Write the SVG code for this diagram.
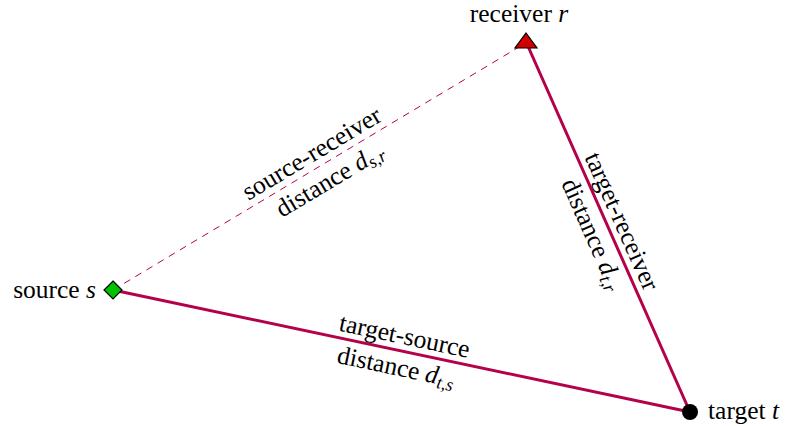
<svg xmlns="http://www.w3.org/2000/svg" width="785" height="426" viewBox="0 0 785 426" font-family="'Liberation Serif', 'Times New Roman', serif">
<style>
text{font-family:"Liberation Serif","Times New Roman",serif;font-size:25.5px;fill:#000}
.i{font-style:italic}
.sub{font-size:18px;font-style:italic}
.edge{stroke:#b5004a;fill:none;stroke-linecap:round}
.solid{stroke-width:3}
.dash{stroke-width:1;stroke-dasharray:7 6;stroke-linecap:butt}
.lbl{text-anchor:middle}
</style>
<rect width="785" height="426" fill="#fff"/>
<g id="connectors">
<line class="edge dash" x1="113" y1="290" x2="524" y2="44"/>
<line class="edge solid" x1="527" y1="44" x2="690" y2="412"/>
<line class="edge solid" x1="113" y1="290" x2="690" y2="412"/>
</g>
<g id="edge-labels">
<g transform="translate(319.5,166.5) rotate(-30.9)">
<text class="lbl" x="0" y="-7">source-receiver</text>
<text class="lbl" x="2" y="25">distance <tspan class="i">d</tspan><tspan class="sub" dy="4">s,r</tspan></text>
</g>
<g transform="translate(608,227.5) rotate(66.04)">
<text class="lbl" x="0" y="-7">target-receiver</text>
<text class="lbl" x="0" y="25">distance <tspan class="i">d</tspan><tspan class="sub" dy="4">t,r</tspan></text>
</g>
<g transform="translate(401.5,351) rotate(11.94)">
<text class="lbl" x="0" y="-7">target-source</text>
<text class="lbl" x="-2" y="25">distance <tspan class="i">d</tspan><tspan class="sub" dy="4">t,s</tspan></text>
</g>
</g>
<g id="source">
<polygon points="113,281 122,290 113,299 104,290" fill="#00c000" stroke="#000" stroke-width="1.2"/>
<text x="96" y="298" text-anchor="end">source <tspan class="i">s</tspan></text>
</g>
<g id="receiver">
<polygon points="526,33 537,48 515,48" fill="#d00000" stroke="#000" stroke-width="1.2"/>
<text x="519" y="22" text-anchor="middle">receiver <tspan class="i">r</tspan></text>
</g>
<g id="target">
<circle cx="690" cy="412" r="8" fill="#000"/>
<text x="708" y="419">target <tspan class="i">t</tspan></text>
</g>
</svg>
